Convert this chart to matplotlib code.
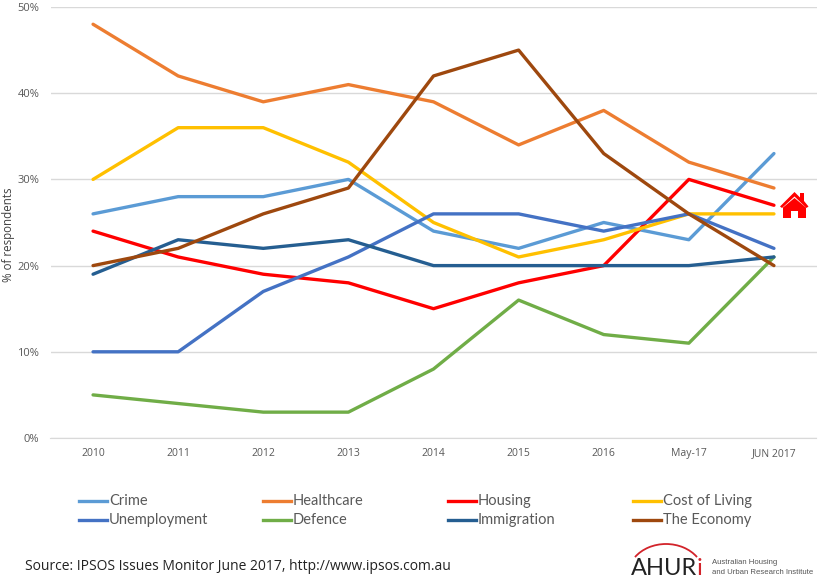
import matplotlib
matplotlib.use("Agg")
import matplotlib.pyplot as plt
from matplotlib.lines import Line2D
from matplotlib.patches import Arc, Polygon

# Data: % of respondents naming each issue
years = ["2010", "2011", "2012", "2013", "2014", "2015", "2016", "May-17", "JUN 2017"]
crime = [26, 28, 28, 30, 24, 22, 25, 23, 33]
healthcare = [48, 42, 39, 41, 39, 34, 38, 32, 29]
housing = [24, 21, 19, 18, 15, 18, 20, 30, 27]
cost_of_living = [30, 36, 36, 32, 25, 21, 23, 26, 26]
unemployment = [10, 10, 17, 21, 26, 26, 24, 26, 22]
defence = [5, 4, 3, 3, 8, 16, 12, 11, 21]
immigration = [19, 23, 22, 23, 20, 20, 20, 20, 21]
economy = [20, 22, 26, 29, 42, 45, 33, 26, 20]
yticks = [0, 10, 20, 30, 40, 50]

names = ["Crime", "Healthcare", "Housing", "Cost of Living",
         "Unemployment", "Defence", "Immigration", "The Economy"]
values = [crime, healthcare, housing, cost_of_living,
          unemployment, defence, immigration, economy]
colors = ["#5B9BD5", "#ED7D31", "#FF0000", "#FFC000",
          "#4472C4", "#70AD47", "#255E91", "#9E480E"]

W, H = 825, 583
fig = plt.figure(figsize=(W / 100, H / 100), dpi=100)
ax = fig.add_axes([50.5 / W, 1 - 438 / H, 766 / W, 431 / H])

for name, vals, c in zip(names, values, colors):
    ax.plot(range(len(years)), vals, color=c, lw=2.4, label=name, solid_capstyle="round")

ax.set_xlim(-0.5, len(years) - 0.5)
ax.set_ylim(0, 50)
ax.set_xticks(range(len(years)))
ax.set_xticklabels(years, fontsize=7.5, color="#595959", family="Open Sans")
ax.set_yticks(yticks)
ax.set_yticklabels([f"{v}%" for v in yticks], fontsize=8, color="#595959", family="Open Sans")
ax.tick_params(length=0)
ax.tick_params(axis="x", pad=7)
ax.tick_params(axis="y", pad=8)
ax.grid(axis="y", color="#D9D9D9", lw=1)
ax.set_axisbelow(True)
for s in ["top", "right", "left"]:
    ax.spines[s].set_visible(False)
ax.spines["bottom"].set_color("#D9D9D9")

# Overlay in pixel coordinates for legend, source and logo
ov = fig.add_axes([0, 0, 1, 1])
ov.set_xlim(0, W)
ov.set_ylim(H, 0)
ov.axis("off")
ov.patch.set_alpha(0)

ov.text(9, 235, "% of respondents", rotation=90, ha="center", va="center",
        fontsize=8.3, color="#404040", family="Open Sans")

# Legend
legend_x = [79, 263, 448, 633]
legend_y = [501, 520]
for i, (name, c) in enumerate(zip(names, colors)):
    x = legend_x[i % 4]
    y = legend_y[i // 4]
    ov.add_line(Line2D([x, x + 28], [y, y], color=c, lw=2.4))
    ov.text(x + 30, y, name, va="center", ha="left", fontsize=10.5, color="#595959", family="Lato")

ov.text(25, 566, "Source: IPSOS Issues Monitor June 2017, http://www.ipsos.com.au",
        va="center", ha="left", fontsize=10, color="#222222", family="Open Sans")

# House icon
ov.add_patch(Polygon([(783, 207.5), (783, 218), (791, 218), (791, 211), (798, 211), (798, 218),
                      (806, 218), (806, 207.5), (794.5, 198)], closed=True, color="#FF0000", lw=0))
ov.add_patch(Polygon([(780, 206.5), (794.5, 192), (800, 197.5), (800, 193), (804, 193), (804, 201),
                      (808.5, 206.5), (806.5, 208), (794.5, 196.5), (782, 208)],
                     closed=True, color="#FF0000", lw=0))

# AHURI logo
ov.add_patch(Arc((666, 575), 76, 62, theta1=210, theta2=330, color="#D2232A", lw=1.3))
ov.text(631, 575, "AHUR", va="baseline", ha="left", fontsize=17, color="#222222", family="Lato")
ov.text(697, 575, "i", va="baseline", ha="left", fontsize=17, color="#D2232A", family="Lato")
ov.text(712, 563, "Australian Housing", va="center", ha="left", fontsize=5.6, color="#555555", family="Liberation Sans")
ov.text(712, 573, "and Urban Research Institute", va="center", ha="left", fontsize=5.6, color="#555555", family="Liberation Sans")

fig.savefig("out.png", dpi=100)
